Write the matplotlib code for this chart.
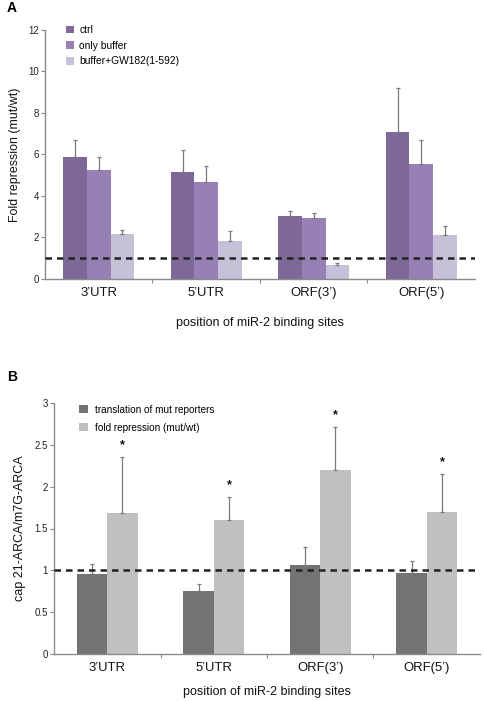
import matplotlib
matplotlib.use("Agg")
import matplotlib.pyplot as plt
import numpy as np

plt.rcParams['font.family'] = ['Liberation Sans', 'DejaVu Sans']

# ---- Panel A data ----
categories = ["3\u2019UTR", "5\u2019UTR", "ORF(3\u2019)", "ORF(5\u2019)"]
a_series = ["ctrl", "only buffer", "buffer+GW182(1-592)"]
a_ctrl = [5.87, 5.17, 3.01, 7.07]
a_ctrl_err = [0.80, 1.03, 0.28, 2.13]
a_buf = [5.27, 4.69, 2.96, 5.54]
a_buf_err = [0.58, 0.74, 0.24, 1.17]
a_gw = [2.19, 1.82, 0.67, 2.11]
a_gw_err = [0.19, 0.48, 0.08, 0.45]
a_yticks = [0, 2, 4, 6, 8, 10, 12]

# ---- Panel B data ----
b_series = ["translation of mut reporters", "fold repression (mut/wt)"]
b_trans = [0.955, 0.755, 1.063, 0.967]
b_trans_err = [0.115, 0.08, 0.211, 0.143]
b_fold = [1.682, 1.598, 2.197, 1.694]
b_fold_err = [0.671, 0.276, 0.520, 0.455]
b_star = ["*", "*", "*", "*"]
b_yticks = [0, 0.5, 1, 1.5, 2, 2.5, 3]
b_yticklabels = ["0", "0.5", "1", "1.5", "2", "2.5", "3"]

ref_line = 1.0

fig = plt.figure(figsize=(4.85, 7.01), dpi=100)

spine_col = "#8a8a8a"
err_col = "#7a7a7a"

def style_axes(ax, ymax, yticks, yticklabels=None):
    for s in ["top", "right"]:
        ax.spines[s].set_visible(False)
    for s in ["left", "bottom"]:
        ax.spines[s].set_color(spine_col)
        ax.spines[s].set_linewidth(1.0)
    ax.set_xlim(0, 4)
    ax.set_ylim(0, ymax)
    ax.set_yticks(yticks)
    if yticklabels is not None:
        ax.set_yticklabels(yticklabels)
    ax.tick_params(axis='y', direction='out', length=3, width=0.8, color=spine_col,
                   labelsize=7, pad=1.5, labelcolor="#222222")
    ax.set_xticks(np.arange(4) + 0.5)
    ax.set_xticklabels(categories)
    ax.tick_params(axis='x', length=0, labelsize=9.4, pad=6, labelcolor="#111111")
    ax.set_xticks([1, 2, 3], minor=True)
    ax.tick_params(axis='x', which='minor', direction='out', length=3, width=0.8, color=spine_col)

# ---------------- Panel A ----------------
axA = fig.add_axes([45/485, 1-279/701, 430/485, (279-29.7)/701])
x = np.arange(4) + 0.5
w = 0.22
colsA = ["#7e6898", "#9780b4", "#c6c0d8"]
dataA = [(a_ctrl, a_ctrl_err), (a_buf, a_buf_err), (a_gw, a_gw_err)]
handlesA = []
for i, ((vals, errs), c, lab) in enumerate(zip(dataA, colsA, a_series)):
    pos = x + (i - 1) * w
    b = axA.bar(pos, vals, width=w, color=c, edgecolor="none", label=lab, zorder=2)
    handlesA.append(b)
    axA.errorbar(pos, vals, yerr=[np.zeros(4), errs], fmt='none', ecolor=err_col,
                 elinewidth=0.9, capsize=1.5, capthick=0.9, zorder=3)
axA.axhline(ref_line, color="#222222", lw=1.8, ls=(0, (2.6, 2.0)), zorder=4)
style_axes(axA, 12, a_yticks)
axA.set_ylabel("Fold repression (mut/wt)", fontsize=8.9, labelpad=5, color="#111111")
axA.set_xlabel("position of miR-2 binding sites", fontsize=9, labelpad=13, color="#111111")
legA = axA.legend(handles=handlesA, loc='upper left', bbox_to_anchor=(0.04, 1.035),
                  frameon=False, fontsize=7.4, handlelength=0.75, handleheight=0.75,
                  handletextpad=0.5, labelspacing=0.55, borderaxespad=0)
fig.text(7/485, 1-8/701, "A", fontsize=10, fontweight='bold', va='center', ha='left')

# ---------------- Panel B ----------------
axB = fig.add_axes([54/485, 1-653.7/701, 426/485, (653.7-403.3)/701])
wb = 0.285
colsB = ["#737373", "#c0c0c0"]
dataB = [(b_trans, b_trans_err), (b_fold, b_fold_err)]
handlesB = []
for i, ((vals, errs), c, lab) in enumerate(zip(dataB, colsB, b_series)):
    pos = x + (i - 0.5) * wb
    b = axB.bar(pos, vals, width=wb, color=c, edgecolor="none", label=lab, zorder=2)
    handlesB.append(b)
    axB.errorbar(pos, vals, yerr=[np.zeros(4), errs], fmt='none', ecolor=err_col,
                 elinewidth=0.9, capsize=1.5, capthick=0.9, zorder=3)
    if i == 1:
        for p, v, e, s in zip(pos, vals, errs, b_star):
            axB.text(p, v + e + 0.07, s, ha='center', va='bottom', fontsize=9,
                     fontweight='bold', color="#111111")
axB.axhline(ref_line, color="#222222", lw=1.8, ls=(0, (2.6, 2.0)), zorder=4)
style_axes(axB, 3, b_yticks, b_yticklabels)
axB.set_ylabel("cap 21-ARCA/m7G-ARCA", fontsize=9, labelpad=6, color="#111111")
axB.set_xlabel("position of miR-2 binding sites", fontsize=9, labelpad=8.5, color="#111111")
legB = axB.legend(handles=handlesB, loc='upper left', bbox_to_anchor=(0.05, 1.01),
                  frameon=False, fontsize=7.2, handlelength=0.85, handleheight=0.85,
                  handletextpad=0.7, labelspacing=0.8, borderaxespad=0)
fig.text(7/485, 1-376.7/701, "B", fontsize=10, fontweight='bold', va='center', ha='left')

fig.savefig("out.png", dpi=100)
